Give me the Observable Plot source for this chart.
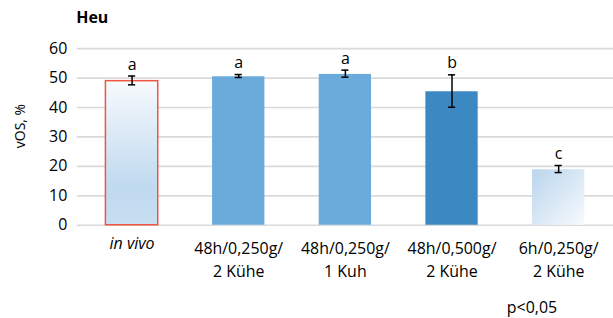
<!DOCTYPE html>
<html>
<head>
<meta charset="utf-8">
<script src="https://cdn.jsdelivr.net/npm/d3@7"></script>
<script src="https://cdn.jsdelivr.net/npm/@observablehq/plot@0.6"></script>
<style>
  html, body { margin: 0; padding: 0; background: #fff; overflow: hidden; }
  svg { display: block; }
</style>
</head>
<body>
<div id="chart"></div>
<script>
const title = "Heu";
const yLabel = "vOS, %";
const note = "p<0,05";
const categories = ["in vivo", "48h/0,250g/\n2 Kühe", "48h/0,250g/\n1 Kuh", "48h/0,500g/\n2 Kühe", "6h/0,250g/\n2 Kühe"];
const values = [49.2, 50.7, 51.5, 45.6, 19.1];
const errors = [1.5, 0.5, 1.2, 5.5, 1.2];
const letters = ["a", "a", "a", "b", "c"];
const yTicks = [0, 10, 20, 30, 40, 50, 60];

const data = categories.map((c, i) => ({cat: c, value: values[i], err: errors[i], letter: letters[i], i}));

// styles (kept separate from data)
const fillFor = i => ["url(#gVivo)", "#6aabdc", "#6aabdc", "#3b88c3", "url(#gSix)"][i];
const strokeFor = i => i === 0 ? "#f0553e" : "none";

const font = "Open Sans, sans-serif";
const fs = 16;

const plot = Plot.plot({
  width: 615,
  height: 318,
  marginLeft: 77,
  marginRight: 0,
  marginTop: 48.3,
  marginBottom: 92.5,
  style: {fontFamily: font, fontSize: fs + "px", color: "#000", background: "#fff"},
  x: {domain: categories, paddingInner: 0.5, paddingOuter: 0.25, axis: null},
  y: {domain: [0, 60], axis: null},
  color: {type: "identity"},
  marks: [
    Plot.ruleY(yTicks, {stroke: "#dadada", strokeWidth: 1.7}),
    Plot.axisY(yTicks, {tickSize: 0, tickPadding: 10, fontSize: fs, label: null, fill: "#000"}),
    Plot.barY(data, {x: "cat", y: "value", fill: d => fillFor(d.i), stroke: d => strokeFor(d.i), strokeWidth: 1.5,
      insetTop: 0.75, insetLeft: 0.75, insetRight: 0.75}),
    Plot.ruleX(data, {x: "cat", y1: d => d.value - d.err, y2: d => d.value + d.err, stroke: "#000", strokeWidth: 1.5}),
    Plot.tickY(data, {x: "cat", y: d => d.value - d.err, stroke: "#000", strokeWidth: 1.5, insetLeft: 23.4, insetRight: 23.4}),
    Plot.tickY(data, {x: "cat", y: d => d.value + d.err, stroke: "#000", strokeWidth: 1.5, insetLeft: 23.4, insetRight: 23.4}),
    Plot.text(data, {x: "cat", y: d => d.value + d.err, text: "letter", lineAnchor: "bottom", dy: -6.5, fontSize: fs, fill: "#000"}),
    // x labels
    Plot.text(data.filter(d => d.i === 0), {x: "cat", y: () => 0, text: "cat", lineAnchor: "top", dy: 12, fontSize: fs, fontStyle: "italic", fill: "#000"}),
    Plot.text(data.filter(d => d.i > 0), {x: "cat", y: () => 0, text: "cat", lineAnchor: "top", dy: 12, lineHeight: 1.45, fontSize: fs, fill: "#000"}),
    // title
    Plot.text([title], {frameAnchor: "top-left", text: d => d, textAnchor: "start", lineAnchor: "bottom", dx: -1, dy: -25.3, fontWeight: "bold", fontSize: fs, fill: "#000"}),
    // y label
    Plot.text([yLabel], {frameAnchor: "left", y: () => 33.7, text: d => d, rotate: -90, textAnchor: "middle", dx: -57, fontSize: 14, fill: "#000"}),
    // note
    Plot.text([note], {x: () => categories[4], y: () => 0, text: d => d, textAnchor: "end", lineAnchor: "bottom", dx: -1.5, dy: 88, fontSize: fs, fill: "#000"})
  ]
});

const svg = d3.select(plot);
const defs = svg.insert("defs", ":first-child");
const g1 = defs.append("linearGradient").attr("id", "gVivo").attr("x1", 0).attr("y1", 0).attr("x2", 0).attr("y2", 1);
g1.append("stop").attr("offset", "0%").attr("stop-color", "#f7fafd");
g1.append("stop").attr("offset", "75%").attr("stop-color", "#bfd9ef");
g1.append("stop").attr("offset", "100%").attr("stop-color", "#c9dff2");
const g2 = defs.append("linearGradient").attr("id", "gSix").attr("x1", 0).attr("y1", 0).attr("x2", 1).attr("y2", 1);
g2.append("stop").attr("offset", "0%").attr("stop-color", "#bad5ed");
g2.append("stop").attr("offset", "100%").attr("stop-color", "#f7fafd");

document.getElementById("chart").appendChild(plot);
</script>
</body>
</html>
